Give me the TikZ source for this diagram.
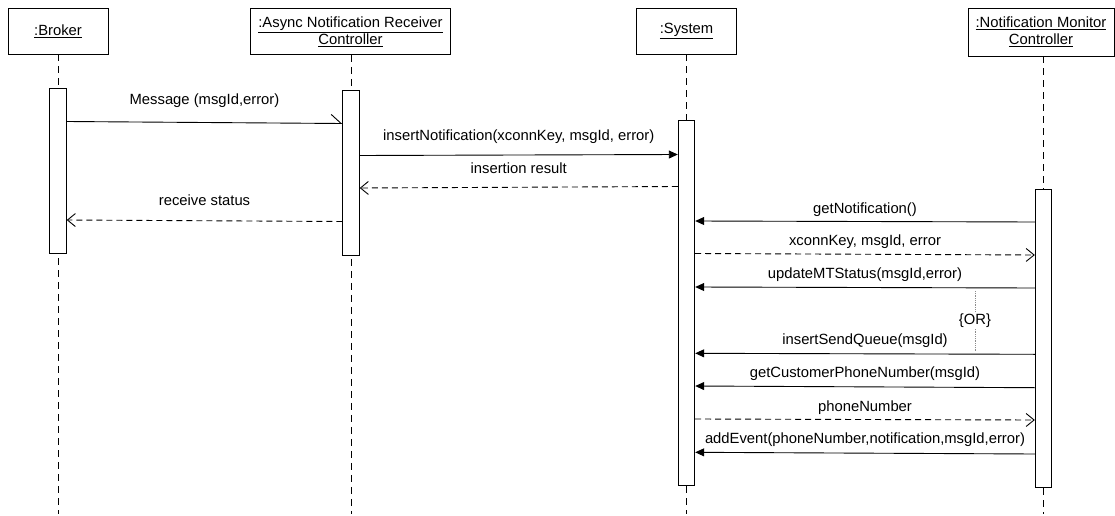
\documentclass[tikz,border=0pt]{standalone}
\usepackage{fontspec}
\setmainfont{Liberation Sans}
\usetikzlibrary{arrows.meta}
\begin{document}
\begin{tikzpicture}[x=1pt,y=-1pt,
  every node/.style={font=\fontsize{14.8}{17}\selectfont},
  head/.style={draw, line width=0.9pt, align=center, inner sep=0pt, minimum height=46pt},
  bar/.style={draw, fill=white, line width=0.9pt, minimum width=16.5pt, inner sep=0pt, anchor=north},
  life/.style={dash pattern=on 7pt off 5pt, line width=0.9pt},
  call/.style={line width=0.9pt, -{Triangle[length=9pt,width=8pt]}},
  reply/.style={line width=0.9pt, dash pattern=on 6pt off 4pt, -{Straight Barb[length=8pt,width=13pt]}},
  asyncmsg/.style={line width=0.9pt, -{Straight Barb[harpoon,length=10pt,width=18pt]}},
  lbl/.style={anchor=base, inner sep=0pt}
]
\useasboundingbox (0,0) rectangle (1115,516);

% object headers
\node[head, minimum width=100pt] (broker) at (58,31) {\underline{:Broker}};
\node[head, minimum width=200pt] (async) at (350.5,31.5) {\underline{:Async Notification Receiver}\\\underline{Controller}};
\node[head, minimum width=100pt] (sys) at (686.5,31) {\underline{:System}};
\node[head, minimum width=146pt, minimum height=48pt] (mon) at (1041,32) {\underline{:Notification Monitor}\\\underline{Controller}};

% lifeline x positions
\coordinate (brokerX) at (58,0);
\coordinate (asyncX) at (351,0);
\coordinate (sysX) at (686.5,0);
\coordinate (monX) at (1043.5,0);

% lifelines
\coordinate (bottom) at (0,514);
\draw[life] (brokerX |- broker.south) -- (brokerX |- bottom);
\draw[life] (asyncX |- async.south) -- (asyncX |- bottom);
\draw[life] (sysX |- sys.south) -- (sysX |- bottom);
\draw[life] (monX |- mon.south) -- (monX |- bottom);

% activation bars
\node[bar, minimum height=165pt] (brokerBar) at (58,88) {};
\node[bar, minimum height=165pt] (asyncBar) at (351,90) {};
\node[bar, minimum height=365pt] (sysBar) at (686.5,120) {};
\node[bar, minimum height=298pt] (monBar) at (1043.5,189) {};

% messages
\draw[asyncmsg] (brokerBar.east |- 0,121.5) -- (asyncBar.west |- 0,123.5)
  node[lbl, midway, yshift=17.5pt] {Message (msgId,error)};
\draw[call] (asyncBar.east |- 0,155.5) -- (sysBar.west |- 0,154.5)
  node[lbl, midway, yshift=15pt] {insertNotification(xconnKey, msgId, error)};
\draw[reply] (sysBar.west |- 0,186.5) -- (asyncBar.east |- 0,188)
  node[lbl, midway, yshift=14pt] {insertion result};
\draw[reply] (asyncBar.west |- 0,221.5) -- (brokerBar.east |- 0,220)
  node[lbl, midway, yshift=15pt] {receive status};

\draw[call] (monBar.west |- 0,222) -- (sysBar.east |- 0,221)
  node[lbl, midway, yshift=8.5pt] {getNotification()};
\draw[reply] (sysBar.east |- 0,253.5) -- (monBar.west |- 0,255)
  node[lbl, midway, yshift=9pt] {xconnKey, msgId, error};
\draw[call] (monBar.west |- 0,288) -- (sysBar.east |- 0,287)
  node[lbl, midway, yshift=9.5pt] {updateMTStatus(msgId,error)};
\draw[call] (monBar.west |- 0,354.3) -- (sysBar.east |- 0,353.3)
  node[lbl, midway, yshift=9pt] {insertSendQueue(msgId)};
\draw[call] (monBar.west |- 0,387.7) -- (sysBar.east |- 0,386)
  node[lbl, midway, yshift=9pt] {getCustomerPhoneNumber(msgId)};
\draw[reply] (sysBar.east |- 0,419) -- (monBar.west |- 0,420)
  node[lbl, midway, yshift=8.5pt] {phoneNumber};
\draw[call] (monBar.west |- 0,454) -- (sysBar.east |- 0,452.3)
  node[lbl, midway, yshift=10pt] {addEvent(phoneNumber,notification,msgId,error)};

% {OR} constraint between the two alternative calls
\coordinate (orTop) at (975,291);
\coordinate (orBot) at (975,351);
\draw[densely dotted, line width=0.8pt, black!45] (orTop) -- (orBot);
\node[fill=white, inner sep=1pt] (or) at (975,321) {\{OR\}};
\end{tikzpicture}
\end{document}
